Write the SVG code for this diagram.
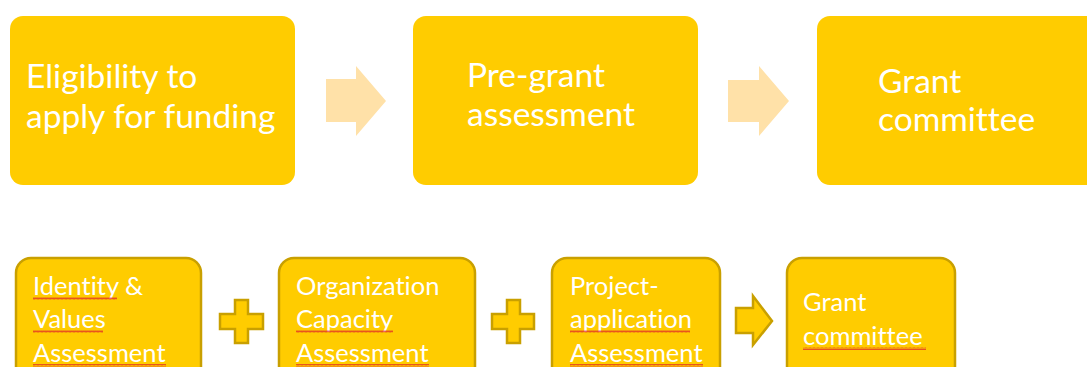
<svg xmlns="http://www.w3.org/2000/svg" width="1087" height="367" viewBox="0 0 1087 367">
<style>
.top{fill:#FFCC00}
.bot{fill:#FFCC00;stroke:#C9A000;stroke-width:2.5}
.arr{fill:#FFE1A8}
.plus{fill:#FFCC00;stroke:#C9A000;stroke-width:2.5}
.t{font-family:"Lato","Open Sans",sans-serif;fill:#FFFFFF;font-variant-ligatures:none}
.tt{font-size:33.5px}
.bt{font-size:25.5px}
.sq{fill:url(#squig)}
</style>
<defs>
<pattern id="squig" x="0" y="0" width="4" height="3" patternUnits="userSpaceOnUse">
<polyline points="0,2.5 1,0.5 2,2.5 3,0.5 4,2.5" fill="none" stroke="#E0202A" stroke-width="0.7"/>
</pattern>
</defs>
<rect width="1087" height="367" fill="#FFFFFF"/>
<g id="node-eligibility">
<rect class="top" x="10" y="16" width="285" height="169" rx="13"/>
<text class="t tt" x="26" y="88">Eligibility to</text>
<text class="t tt" x="26" y="128">apply for funding</text>
</g>
<g id="node-pregrant">
<rect class="top" x="413" y="16" width="285" height="169" rx="13"/>
<text class="t tt" x="467" y="87">Pre-grant</text>
<text class="t tt" x="467" y="126">assessment</text>
</g>
<g id="node-grant-top">
<rect class="top" x="817" y="16" width="290" height="169" rx="13"/>
<text class="t tt" x="878" y="93">Grant</text>
<text class="t tt" x="878" y="131">committee</text>
</g>
<g id="node-identity">
<rect class="bot" x="16" y="258" width="185" height="130" rx="15"/>
<text class="t bt" x="33" y="295">Identity &amp;</text>
<text class="t bt" x="33" y="328">Values</text>
<text class="t bt" x="33" y="362">Assessment</text>
<rect class="sq" x="33" y="297" width="84" height="3"/>
<rect class="sq" x="33" y="330" width="70" height="3"/>
<rect class="sq" x="33" y="364" width="133" height="3"/>
</g>
<g id="node-organization">
<rect class="bot" x="279" y="258" width="196" height="130" rx="15"/>
<text class="t bt" x="296" y="295">Organization</text>
<text class="t bt" x="296" y="328">Capacity</text>
<text class="t bt" x="296" y="362">Assessment</text>
<rect class="sq" x="296" y="330" width="97" height="3"/>
<rect class="sq" x="296" y="364" width="133" height="3"/>
</g>
<g id="node-project">
<rect class="bot" x="552" y="258" width="168" height="130" rx="15"/>
<text class="t bt" x="570" y="295">Project-</text>
<text class="t bt" x="570" y="328">application</text>
<text class="t bt" x="570" y="362">Assessment</text>
<rect class="sq" x="570" y="330" width="120" height="3"/>
<rect class="sq" x="570" y="364" width="133" height="3"/>
</g>
<g id="node-grant-bottom">
<rect class="bot" x="787" y="258" width="168" height="130" rx="15"/>
<text class="t bt" x="803" y="311">Grant</text>
<text class="t bt" x="803" y="345">committee</text>
<rect class="sq" x="803" y="347" width="123" height="3"/>
</g>
<g id="connectors">
<polygon class="arr" points="326,79 356,79 356,66 386,101 356,136 356,122 326,122"/>
<polygon class="arr" points="728,80 759,80 759,66 789,101 759,136 759,122 728,122"/>
<polygon class="plus" points="235,300 248,300 248,314 263,314 263,329 248,329 248,343 235,343 235,329 220,329 220,314 235,314"/>
<polygon class="plus" points="507,300 520,300 520,314 534,314 534,329 520,329 520,343 507,343 507,329 492,329 492,314 507,314"/>
<polygon class="plus" points="736,308 753,308 753,296 772,321 753,345 753,333 736,333"/>
</g>
</svg>
